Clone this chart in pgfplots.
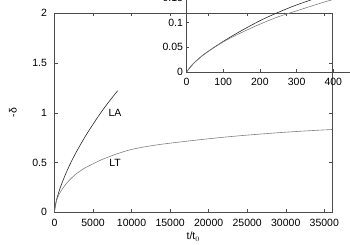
\documentclass[border=0pt]{standalone}
\usepackage{pgfplots}
\usepackage{pgfplotstable}
\pgfplotsset{compat=1.18}
\usepackage{fontspec}
\setmainfont{Liberation Sans}

\pgfplotstableread{
t d
0 0
20 0.018
50 0.037
100 0.062
150 0.084
200 0.104
250 0.121
300 0.136
350 0.149
400 0.162
500 0.189
600 0.214
800 0.259
1000 0.300
1500 0.395
2000 0.480
2500 0.558
3000 0.630
4000 0.764
5000 0.885
6000 1.000
7000 1.105
8000 1.203
8200 1.222
}\LAdata

\pgfplotstableread{
t d
0 0
20 0.018
50 0.037
100 0.061
150 0.080
200 0.097
250 0.112
300 0.124
350 0.136
400 0.147
500 0.165
600 0.181
800 0.208
1000 0.232
1500 0.285
2000 0.328
2500 0.365
3000 0.397
4000 0.448
5000 0.487
6000 0.525
7000 0.556
8000 0.585
9000 0.610
10000 0.632
12000 0.662
14000 0.685
16000 0.704
18000 0.722
20000 0.739
22000 0.755
24000 0.769
26000 0.782
28000 0.794
30000 0.805
32000 0.815
34000 0.824
36000 0.832
}\LTdata

\begin{document}
\begin{tikzpicture}
\useasboundingbox (0,0) rectangle (350pt,245pt);
\clip (0,0) rectangle (350pt,245pt);
\pgfplotsset{
  every axis/.append style={
    font=\fontsize{10.5}{12}\selectfont,
    /pgf/number format/assume math mode=true,
    /pgf/number format/1000 sep={},
    scale only axis,
    axis line style={black!70, line width=0.6pt},
    tick style={black!70, line width=0.5pt},
    major tick length=3pt,
    tick align=inside,
    scaled ticks=false,
    yticklabel style={/pgf/number format/fixed},
  }
}
\begin{axis}[
  at={(54.5pt,32.7pt)}, anchor=south west,
  width=277.5pt, height=199pt,
  xmin=0, xmax=36000, ymin=0, ymax=2,
  xtick={0,5000,...,35000},
  ytick={0,0.5,1,1.5,2},
  xticklabel style={yshift=-3pt},
  yticklabel style={xshift=-4pt},
  xlabel={t/t$_0$},
  ylabel={-δ},
  xlabel style={at={(axis description cs:0.5,-0.122)}, anchor=center},
  ylabel style={at={(axis description cs:-0.15,0.5)}, anchor=center},
]
\addplot[black!85, line width=0.6pt, smooth] table[x=t,y=d] {\LAdata};
\addplot[black!50, line width=0.6pt, smooth] table[x=t,y=d] {\LTdata};
\node at (axis cs:7850,1.0) {LA};
\node at (axis cs:7850,0.5) {LT};
\end{axis}

\begin{axis}[
  at={(186.5pt,173pt)}, anchor=south west,
  width=183.5pt, height=98.6pt,
  xmin=0, xmax=500, ymin=0, ymax=0.2,
  xtick={0,100,...,400},
  ytick={0,0.05,0.1,0.15,0.2},
  yticklabel style={/pgf/number format/precision=2},
  xticklabel style={yshift=-2.5pt},
]
\addplot[black!85, line width=0.6pt, smooth] table[x=t,y=d] {\LAdata};
\addplot[black!50, line width=0.6pt, smooth] table[x=t,y=d] {\LTdata};
\end{axis}
\end{tikzpicture}
\end{document}
